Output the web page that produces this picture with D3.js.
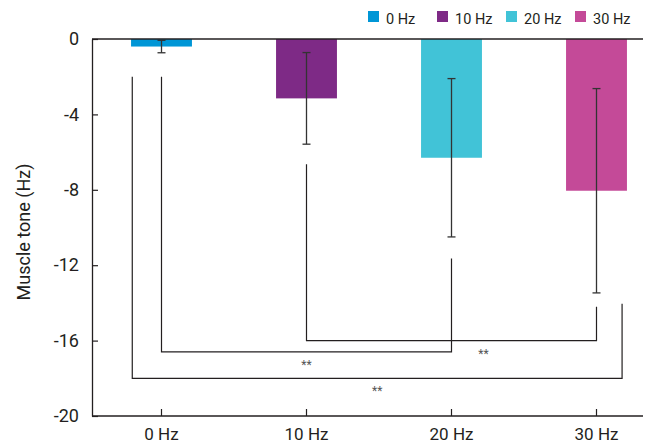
<!DOCTYPE html>
<html>
<head>
<meta charset="utf-8">
<script src="https://cdn.jsdelivr.net/npm/d3@7/dist/d3.min.js"></script>
<style>
  html, body { margin: 0; padding: 0; background: #fff; }
  svg { display: block; font-family: Roboto, "Noto Sans", sans-serif; }
</style>
</head>
<body>
<svg id="chart" width="651" height="445"></svg>
<script>
// Muscle tone change by stimulation frequency (mean ± SD)
const categories = ["0 Hz", "10 Hz", "20 Hz", "30 Hz"];
const meanTone = [-0.4, -3.15, -6.3, -8.05];
const sdTone = [0.33, 2.43, 4.2, 5.42];
const barColors = ["#0096d6", "#7e2a86", "#41c3d7", "#c44a98"];
const yTicks = [0, -4, -8, -12, -16, -20];

// Pairwise significance brackets
const bracketPairs = [["0 Hz", "20 Hz"], ["10 Hz", "30 Hz"], ["0 Hz", "30 Hz"]];
const bracketLevels = [-16.6, -16, -18];
const bracketStarts = [[-2.0, -11.65], [-6.65, -14.2], [-2.0, -14.05]];
const bracketLabels = ["**", "**", "**"];

const svg = d3.select("#chart");
const ink = "#231f20";

const plotLeft = 92, plotRight = 643;
const x = d3.scaleBand()
  .domain(categories)
  .range([89, 669])
  .paddingInner(0.58)
  .paddingOuter(0.29);
const y = d3.scaleLinear().domain([-20, 0]).range([416, 39]);

const bw = x.bandwidth();
const cx = c => x(c) + bw / 2;

// Bars hang down from zero
svg.append("g").selectAll("rect")
  .data(categories)
  .join("rect")
  .attr("x", d => x(d))
  .attr("y", y(0))
  .attr("width", bw)
  .attr("height", (d, i) => y(meanTone[i]) - y(0))
  .attr("fill", (d, i) => barColors[i]);

// Error bars
const eb = svg.append("g").attr("stroke", "#333").attr("stroke-width", 1.3);
categories.forEach((c, i) => {
  const hi = y(meanTone[i] + sdTone[i]);
  const lo = y(meanTone[i] - sdTone[i]);
  eb.append("line").attr("x1", cx(c)).attr("x2", cx(c)).attr("y1", hi).attr("y2", lo);
  eb.append("line").attr("x1", cx(c) - 4).attr("x2", cx(c) + 4).attr("y1", hi).attr("y2", hi);
  eb.append("line").attr("x1", cx(c) - 4).attr("x2", cx(c) + 4).attr("y1", lo).attr("y2", lo);
});

// Significance brackets; the widest one sits just outside the end bars
const br = svg.append("g").attr("fill", "none").attr("stroke", ink).attr("stroke-width", 1.2);
const labelFrac = [0.5, 0.61, 0.5];
bracketPairs.forEach((pair, i) => {
  const outer = i === 2;
  const xa = cx(pair[0]) + (outer ? -0.48 * bw : 0);
  const xb = cx(pair[1]) + (outer ? 0.42 * bw : 0);
  const yl = y(bracketLevels[i]);
  br.append("path")
    .attr("d", `M${xa},${y(bracketStarts[i][0])}V${yl}H${xb}V${y(bracketStarts[i][1])}`);
  svg.append("text")
    .attr("x", xa + (xb - xa) * labelFrac[i])
    .attr("y", yl + 17)
    .attr("text-anchor", "middle")
    .attr("font-size", 12)
    .attr("fill", "#555")
    .text(bracketLabels[i]);
});

// Y axis with inward ticks
const yAxis = svg.append("g")
  .attr("transform", `translate(${plotLeft},0)`)
  .call(d3.axisLeft(y).tickValues(yTicks).tickSize(-6).tickSizeOuter(0)
    .tickPadding(13).tickFormat(d => String(d)));
yAxis.select(".domain").attr("stroke", ink).attr("stroke-width", 1.3);
yAxis.selectAll(".tick line").attr("stroke", ink).attr("stroke-width", 1.2);
yAxis.selectAll(".tick text").attr("font-size", 18).attr("fill", ink)
  .attr("font-family", "Roboto, sans-serif");

// X axis with inward ticks
const xAxis = svg.append("g")
  .attr("transform", `translate(0,${y(-20)})`)
  .call(d3.axisBottom(x).tickSize(-7).tickSizeOuter(0).tickPadding(12));
xAxis.select(".domain").remove();
xAxis.selectAll(".tick line").attr("stroke", ink).attr("stroke-width", 1.2);
xAxis.selectAll(".tick text").attr("font-size", 17).attr("fill", ink)
  .attr("font-family", "Roboto, sans-serif");

// Baseline and zero line across the plot
svg.append("line").attr("x1", plotLeft).attr("x2", plotRight)
  .attr("y1", y(-20)).attr("y2", y(-20)).attr("stroke", ink).attr("stroke-width", 1.3);
svg.append("line").attr("x1", plotLeft).attr("x2", plotRight)
  .attr("y1", y(0)).attr("y2", y(0)).attr("stroke", ink).attr("stroke-width", 1.5);

// Y axis title
svg.append("text")
  .attr("transform", `translate(30,232) rotate(-90)`)
  .attr("text-anchor", "middle")
  .attr("font-size", 18)
  .attr("fill", ink)
  .text("Muscle tone (Hz)");

// Legend
const legend = svg.append("g").selectAll("g")
  .data(categories)
  .join("g")
  .attr("transform", (d, i) => `translate(${368 + i * 69},11)`);
legend.append("rect").attr("width", 11).attr("height", 11)
  .attr("fill", (d, i) => barColors[i]);
legend.append("text").attr("x", 18).attr("y", 12.5)
  .attr("font-size", 14.5).attr("fill", ink).text(d => d);
</script>
</body>
</html>
